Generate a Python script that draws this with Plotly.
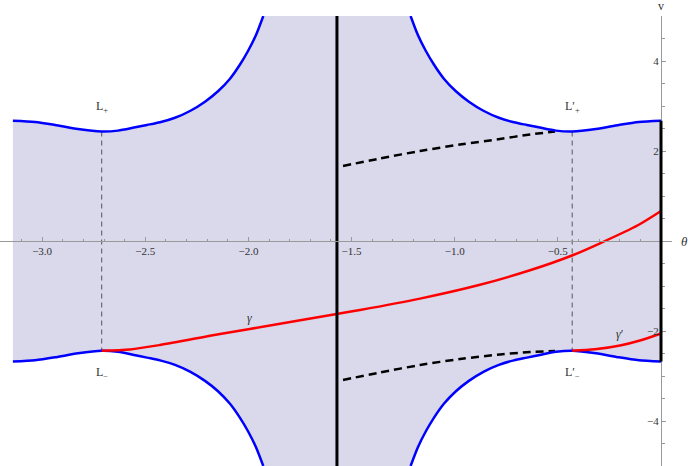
import plotly.graph_objects as go

# ---- data (theta, v) ----
theta_left = [-3.1416, -3.0344, -2.9375, -2.8260, -2.7111, -2.6321, -2.5545, -2.4915, -2.4285,
              -2.3558, -2.2831, -2.2104, -2.1474, -2.0892, -2.0407, -2.0019, -1.9632, -1.9278]
v_top_left = [2.673, 2.645, 2.578, 2.488, 2.433, 2.453, 2.520, 2.578, 2.638,
              2.738, 2.889, 3.096, 3.327, 3.607, 3.922, 4.222, 4.578, 5.0]
v_bot_left = [-2.680, -2.650, -2.585, -2.495, -2.438, -2.462, -2.532, -2.592, -2.652,
              -2.752, -2.902, -3.108, -3.338, -3.617, -3.930, -4.228, -4.582, -5.0]

theta_right = [-1.2138, -1.1784, -1.1397, -1.1009, -1.0524, -0.9942, -0.9312, -0.8585, -0.7858,
               -0.7131, -0.6501, -0.5871, -0.5095, -0.4305, -0.3156, -0.2041, -0.1072, 0.0]
v_top_right = [5.0, 4.578, 4.222, 3.922, 3.607, 3.327, 3.096, 2.889, 2.738,
               2.638, 2.578, 2.520, 2.453, 2.433, 2.488, 2.578, 2.645, 2.673]
v_bot_right = [-5.0, -4.582, -4.228, -3.930, -3.617, -3.338, -3.108, -2.902, -2.752,
               -2.652, -2.592, -2.532, -2.462, -2.438, -2.495, -2.585, -2.650, -2.680]

gamma_theta = [-2.7111, -2.5739, -2.4285, -2.1377, -1.8468, -1.5720, -1.4590,
               -1.1682, -0.8774, -0.6350, -0.4314, -0.2957, -0.1100, 0.0]
gamma_v = [-2.438, -2.409, -2.311, -2.067, -1.840, -1.622, -1.533,
           -1.280, -0.973, -0.651, -0.322, -0.051, 0.356, 0.667]

gamma_p_theta = [-0.4305, -0.3200, -0.1987, -0.1018, 0.0]
gamma_p_v = [-2.438, -2.407, -2.322, -2.211, -2.056]

dash_theta = [-1.5414, -1.3621, -1.1682, -0.9743, -0.7804, -0.6350, -0.5138]
dash_up_v = [1.667, 1.833, 2.000, 2.144, 2.267, 2.367, 2.433]
dash_lo_v = [-3.089, -2.922, -2.756, -2.622, -2.522, -2.467, -2.444]

L_theta = [-2.7111, -0.4305]
L_v_top = 2.433
L_v_bot = -2.438

asym_theta = -1.5708
edge_theta = 0.0
edge_v = [2.673, -2.680]
v_span = [-5.0, 5.0]

x_major = [-3.0, -2.5, -2.0, -1.5, -1.0, -0.5]
x_minor = [-3.2, -3.1, -2.9, -2.8, -2.7, -2.6, -2.4, -2.3, -2.2, -2.1, -1.9, -1.8,
           -1.7, -1.6, -1.4, -1.3, -1.2, -1.1, -0.9, -0.8, -0.7, -0.6, -0.4, -0.3, -0.2, -0.1]
y_major = [-4, -2, 2, 4]
y_minor = [-4.5, -3.5, -3, -2.5, -1.5, -1, -0.5, 0.5, 1, 1.5, 2.5, 3, 3.5, 4.5]

labels = [("L<sub>+</sub>", -2.712, 2.98), ("L<sub>−</sub>", -2.712, -2.93),
          ("L′<sub>+</sub>", -0.429, 2.98), ("L′<sub>−</sub>", -0.429, -2.93),
          ("<i>γ</i>", -1.997, -1.70), ("<i>γ</i>′", -0.199, -2.07)]

X_RANGE = [-3.2041, 0.0533]
Y_RANGE = [-5.0, 5.0]

BLUE = "rgb(0,0,255)"
RED = "rgb(255,0,0)"
FILL = "rgb(217,217,235)"
AXIS = "#999999"
TXT = "#333333"
FONT = "Liberation Serif"

fig = go.Figure()

# shaded region
fill_x = theta_left + theta_right + theta_right[::-1] + theta_left[::-1]
fill_y = v_top_left + v_top_right + v_bot_right[::-1] + v_bot_left[::-1]
fig.add_trace(go.Scatter(x=fill_x, y=fill_y, fill="toself", fillcolor=FILL,
                         mode="none", hoverinfo="skip"))

# dashed gray verticals at L points
for t in L_theta:
    fig.add_trace(go.Scatter(x=[t, t], y=[L_v_top, L_v_bot], mode="lines",
                             line=dict(color="#555555", width=1, dash="5px,4px")))

# black dashed curves
for vv in (dash_up_v, dash_lo_v):
    fig.add_trace(go.Scatter(x=dash_theta, y=vv, mode="lines",
                             line=dict(color="black", width=2.5, dash="8px,5px",
                                       shape="spline", smoothing=0.8)))

# blue boundaries
for tt, vv in ((theta_left, v_top_left), (theta_left, v_bot_left),
               (theta_right, v_top_right), (theta_right, v_bot_right)):
    fig.add_trace(go.Scatter(x=tt, y=vv, mode="lines",
                             line=dict(color=BLUE, width=2.5, shape="spline", smoothing=0.7)))

# red curves
fig.add_trace(go.Scatter(x=gamma_theta, y=gamma_v, mode="lines",
                         line=dict(color=RED, width=2.5, shape="spline", smoothing=0.8)))
fig.add_trace(go.Scatter(x=gamma_p_theta, y=gamma_p_v, mode="lines",
                         line=dict(color=RED, width=2.5, shape="spline", smoothing=0.8)))

# black vertical at -pi/2
fig.add_trace(go.Scatter(x=[asym_theta, asym_theta], y=v_span, mode="lines",
                         line=dict(color="black", width=3)))

# black segment at theta = 0 (above the axis line)
fig.add_shape(type="line", xref="x", yref="y", x0=edge_theta, x1=edge_theta,
              y0=edge_v[0], y1=edge_v[1], line=dict(color="black", width=3), layer="above")

for txt, x, y in labels:
    fig.add_annotation(x=x, y=y, text=txt, showarrow=False,
                       font=dict(family=FONT, size=12, color=TXT))

ypos = (0 - X_RANGE[0]) / (X_RANGE[1] - X_RANGE[0])

# axis labels at the ends of the axes (paper coordinates)
fig.add_annotation(xref="paper", yref="paper", x=1.018, y=0.5, text="<i>θ</i>",
                   xanchor="center", yanchor="middle",
                   showarrow=False, font=dict(family=FONT, size=13, color=TXT))
fig.add_annotation(xref="paper", yref="paper", x=ypos, y=1.022, text="v",
                   xanchor="center", yanchor="middle",
                   showarrow=False, font=dict(family=FONT, size=12, color=TXT))

fig.update_layout(
    width=688, height=466,
    margin=dict(l=0, r=16, t=16, b=0, autoexpand=False),
    paper_bgcolor="white", plot_bgcolor="white",
    showlegend=False, hovermode=False,
    xaxis=dict(range=X_RANGE, anchor="free", position=0.5, showgrid=False, zeroline=False,
               automargin=False,
               showline=True, linecolor=AXIS, linewidth=1,
               tickmode="array", tickvals=x_major, tickformat=".1f",
               ticks="inside", ticklen=4, tickcolor=AXIS, tickwidth=1,
               tickfont=dict(family=FONT, size=11, color=TXT),
               minor=dict(tickmode="array", tickvals=x_minor, ticks="inside",
                          ticklen=2.5, tickcolor=AXIS, showgrid=False)),
    yaxis=dict(range=Y_RANGE, anchor="free", position=ypos, side="left",
               showgrid=False, zeroline=False, automargin=False,
               showline=True, linecolor=AXIS, linewidth=1,
               tickmode="array", tickvals=y_major,
               ticks="inside", ticklen=4, tickcolor=AXIS, tickwidth=1,
               tickfont=dict(family=FONT, size=11, color=TXT),
               minor=dict(tickmode="array", tickvals=y_minor, ticks="inside",
                          ticklen=2.5, tickcolor=AXIS, showgrid=False)),
)

fig.write_html("out.html", config={"displayModeBar": False},
               post_script="document.body.style.margin='0';document.body.style.overflow='hidden';")
